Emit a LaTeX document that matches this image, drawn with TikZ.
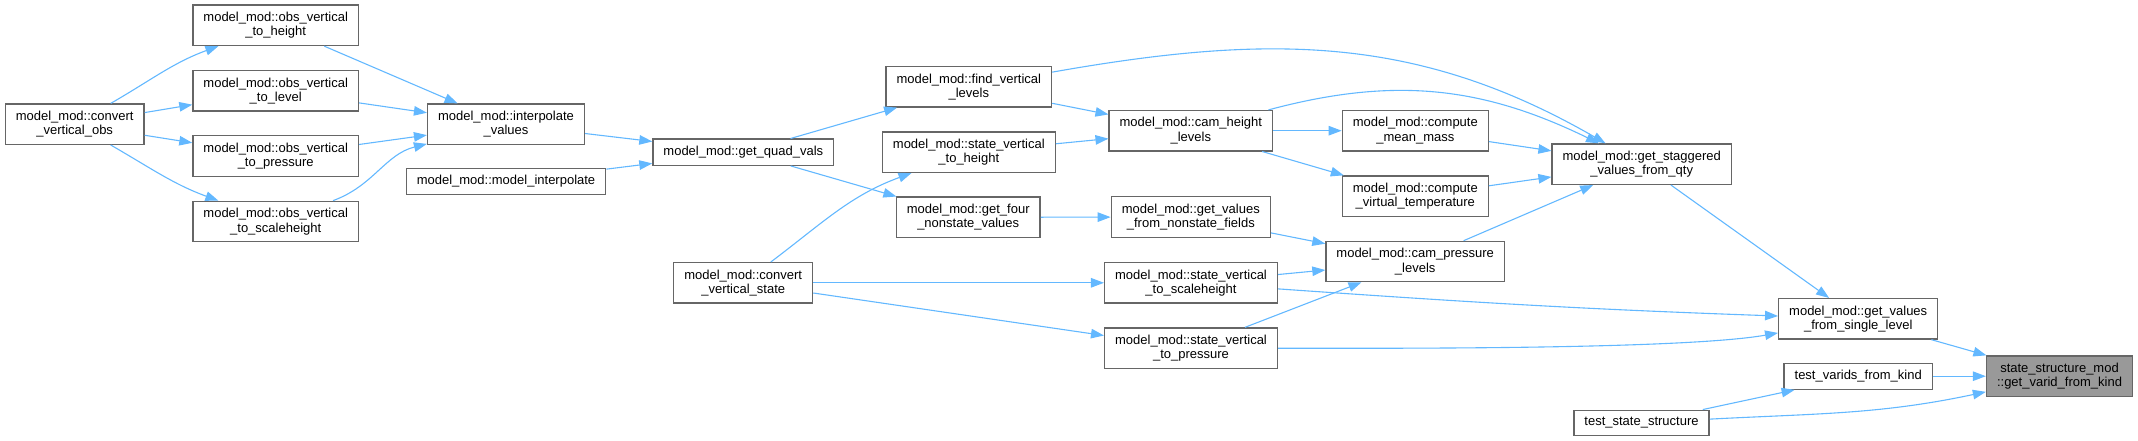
\documentclass[tikz,border=0pt]{standalone}
\usepackage{fontspec}
\setmainfont{Liberation Sans}
\usetikzlibrary{arrows.meta}
\definecolor{cEdge}{HTML}{63B8FF}
\definecolor{cBorder}{HTML}{666666}
\definecolor{cHigh}{HTML}{999999}
\tikzset{
  fn/.style  ={draw=cBorder, line width=1.3pt, fill=white, align=center,
               inner xsep=10.5pt, inner ysep=7pt, font=\fontsize{13}{14.3}\selectfont},
  fnhi/.style={fn, fill=cHigh},
  edge/.style={-{Triangle[length=13pt,width=9.5pt]}, line width=1.1pt, draw=cEdge},
}
\begin{document}
\begin{tikzpicture}[x=1pt, y=-1pt]
        \useasboundingbox (0,0) rectangle (2138,441);
        % callers on the left
        \node[fn] (cvo)  at (74.7,124.2) {model\_mod::convert\\\_vertical\_obs};
        \node[fn] (ovh)  at (275.7,25.3) {model\_mod::obs\_vertical\\\_to\_height};
        \node[fn] (ovl)  at (275.7,90.8) {model\_mod::obs\_vertical\\\_to\_level};
        \node[fn] (ovp)  at (275.7,156)  {model\_mod::obs\_vertical\\\_to\_pressure};
        \node[fn] (ovs)  at (275.7,221.5){model\_mod::obs\_vertical\\\_to\_scaleheight};
        \node[fn] (iv)   at (506,124.2)  {model\_mod::interpolate\\\_values};
        \node[fn] (mi)   at (506,181.5)  {model\_mod::model\_interpolate};
        \node[fn] (gqv)  at (743.3,152.2){model\_mod::get\_quad\_vals};
        \node[fn] (cvs)  at (743.2,282.8){model\_mod::convert\\\_vertical\_state};
        \node[fn] (fvl)  at (968.8,86.8) {model\_mod::find\_vertical\\\_levels};
        \node[fn] (svh)  at (968.8,152.2){model\_mod::state\_vertical\\\_to\_height};
        \node[fn] (gfn)  at (968.2,217.3){model\_mod::get\_four\\\_nonstate\_values};
        \node[fn] (chl)  at (1190.8,130.7){model\_mod::cam\_height\\\_levels};
        \node[fn] (gvnf) at (1190.8,217) {model\_mod::get\_values\\\_from\_nonstate\_fields};
        \node[fn] (svs)  at (1191,282.8) {model\_mod::state\_vertical\\\_to\_scaleheight};
        \node[fn] (svp)  at (1191,348.2) {model\_mod::state\_vertical\\\_to\_pressure};
        \node[fn] (cmm)  at (1415.3,130.7){model\_mod::compute\\\_mean\_mass};
        \node[fn] (cvt)  at (1415.3,196.2){model\_mod::compute\\\_virtual\_temperature};
        \node[fn] (cpl)  at (1415.2,261.5){model\_mod::cam\_pressure\\\_levels};
        \node[fn] (gsv)  at (1641.7,164.2){model\_mod::get\_staggered\\\_values\_from\_qty};
        \node[fn] (tss)  at (1641.5,422.7){test\_state\_structure};
        \node[fn] (gvsl) at (1858.2,318.8){model\_mod::get\_values\\\_from\_single\_level};
        \node[fn] (tvk)  at (1858.2,376.2){test\_varids\_from\_kind};
        % the function itself
        \node[fnhi] (gvk) at (2059.5,376.2){state\_structure\_mod\\::get\_varid\_from\_kind};
        % calls
        \draw[edge] (cvo) to[out=30,in=200] (ovh);
        \draw[edge] (cvo) -- (ovl);
        \draw[edge] (cvo) -- (ovp);
        \draw[edge] (cvo) to[out=-30,in=160] (ovs);
        \draw[edge] (ovh) -- (iv);
        \draw[edge] (ovl) -- (iv);
        \draw[edge] (ovp) -- (iv);
        \draw[edge] (ovs) to[out=20,in=194] (iv);
        \draw[edge] (iv) -- (gqv);
        \draw[edge] (mi) -- (gqv);
        \draw[edge] (gqv) -- (fvl);
        \draw[edge] (gqv) -- (gfn);
        \draw[edge] (cvs) to[out=37,in=200] (svh);
        \draw[edge] (cvs) -- (svs);
        \draw[edge] (cvs) -- (svp);
        \draw[edge] (fvl) -- (chl);
        \draw[edge] (fvl) to[out=10,in=150] (gsv);
        \draw[edge] (svh) -- (chl);
        \draw[edge] (gfn) -- (gvnf);
        \draw[edge] (chl) -- (cmm);
        \draw[edge] (chl) -- (cvt);
        \draw[edge] (chl) to[out=15,in=154] (gsv);
        \draw[edge] (gvnf) -- (cpl);
        \draw[edge] (svs) -- (cpl);
        \draw[edge] (svs) to[out=-4,in=178] (gvsl);
        \draw[edge] (svp) -- (cpl);
        \draw[edge] (svp) to[out=0,in=190,looseness=0.5] (gvsl);
        \draw[edge] (cmm) -- (gsv);
        \draw[edge] (cvt) -- (gsv);
        \draw[edge] (cpl) -- (gsv);
        \draw[edge] (gsv) -- (gvsl);
        \draw[edge] (gvsl) -- (gvk);
        \draw[edge] (tvk) -- (gvk);
        \draw[edge] (tss) -- (tvk);
        \draw[edge] (tss) to[out=3,in=192] (gvk);
      \end{tikzpicture}
\end{document}
